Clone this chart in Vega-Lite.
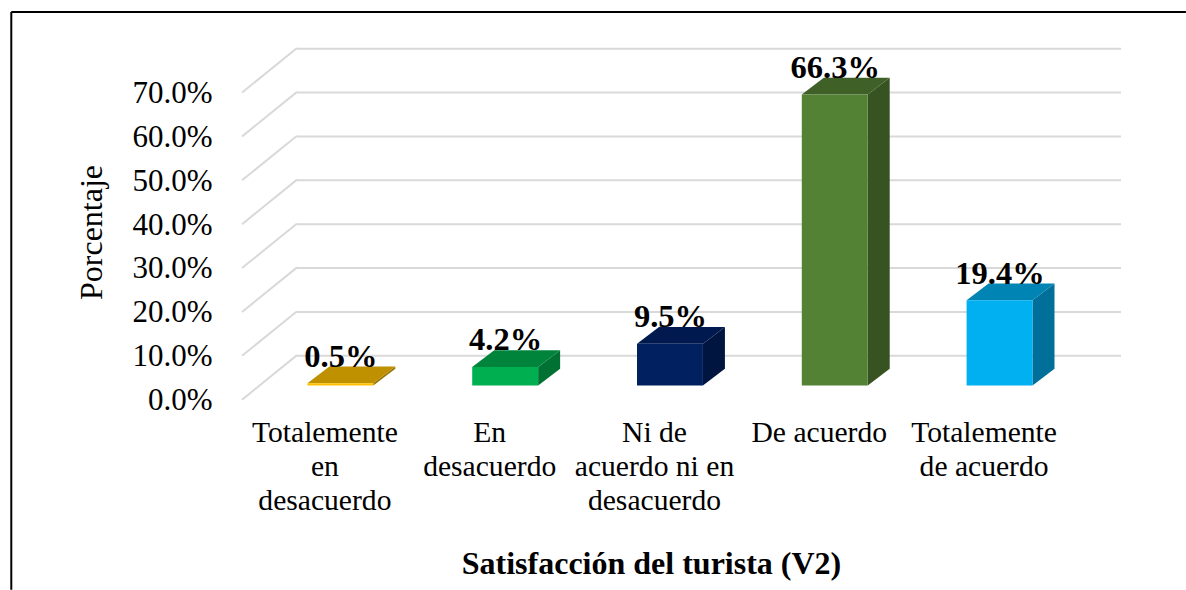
{
"$schema":"https://vega.github.io/schema/vega-lite/v6.json",
"width":879,"height":351,
"autosize":{"type":"none"},
"padding":{"left":242,"top":48,"right":65,"bottom":191},
"background":"white",
"view":{"stroke":null},
"config":{"font":"Liberation Serif"},
"datasets":{
"barras":[
{"categoria":"Totalemente en desacuerdo","orden":1,"valor":0.5},
{"categoria":"En desacuerdo","orden":2,"valor":4.2},
{"categoria":"Ni de acuerdo ni en desacuerdo","orden":3,"valor":9.5},
{"categoria":"De acuerdo","orden":4,"valor":66.3},
{"categoria":"Totalemente de acuerdo","orden":5,"valor":19.4}
],
"rejilla":[{"g":0},{"g":10},{"g":20},{"g":30},{"g":40},{"g":50},{"g":60},{"g":70}],
"marco":[
{"x":-0.9,"x2":-0.9,"y":88.2,"y2":-43.5},
{"x":-0.9,"x2":6.228,"y":88.2,"y2":88.2}
]
},
"resolve":{"scale":{"color":"independent"}},
"layer":[
{"data":{"name":"rejilla"},
 "mark":{"type":"rule","color":"#d9d9d9","strokeWidth":2,"yOffset":0.7},
 "transform":[{"calculate":"datum.g+10","as":"atras"}],
 "encoding":{
  "x":{"datum":0.834,"type":"quantitative","scale":{"domain":[0.5,5.834],"nice":false,"zero":false},
   "axis":{"values":[1,2,3,4,5],"grid":false,"domain":false,"ticks":false,"title":"Satisfacción del turista (V2)","titleFont":"Liberation Serif","titleFontSize":32,"titleFontWeight":"bold","titleColor":"black","titleX":409,"titleY":174,"titleBaseline":"alphabetic","titleAnchor":"middle",
   "labelFont":"Liberation Serif","labelFontSize":29.6,"labelColor":"black","labelPadding":19,"labelLineHeight":34,"labelOverlap":false,"labelBound":false,"labelFlush":false,"labelAngle":0,
   "labelExpr":"datum.value==1?['Totalemente','en','desacuerdo']:datum.value==2?['En','desacuerdo']:datum.value==3?['Ni de','acuerdo ni en','desacuerdo']:datum.value==4?['De acuerdo']:['Totalemente','de acuerdo']"}},
  "x2":{"datum":5.834},
  "y":{"field":"atras","type":"quantitative","scale":{"domain":[0,80],"nice":false,"zero":false},
   "axis":{"values":[0,10,20,30,40,50,60,70],"grid":false,"domain":false,"ticks":false,"title":"Porcentaje","titleFont":"Liberation Serif","titleFontSize":32,"titleFontWeight":"normal","titleColor":"black","titleX":-151,"titleY":184,"titleAngle":-90,"titleBaseline":"middle","titleAlign":"center",
   "labelFont":"Liberation Serif","labelFontSize":31,"labelColor":"black","labelPadding":30,"labelOffset":1.5,"labelOverlap":false,"labelBound":false,"labelFlush":false,
   "labelExpr":"format(datum.value,'.1f')+'%'"}}
 }},
{"data":{"name":"rejilla"},
 "mark":{"type":"rule","color":"#d9d9d9","strokeWidth":2,"yOffset":0.7},
 "transform":[{"calculate":"datum.g+10","as":"atras"}],
 "encoding":{
  "x":{"datum":0.5,"type":"quantitative"},
  "x2":{"datum":0.834},
  "y":{"field":"g","type":"quantitative"},
  "y2":{"field":"atras"}
 }},
{"data":{"name":"marco"},
 "mark":{"type":"rule","color":"black","strokeWidth":2},
 "encoding":{
  "x":{"field":"x","type":"quantitative"},
  "x2":{"field":"x2"},
  "y":{"field":"y","type":"quantitative"},
  "y2":{"field":"y2"}
 }},
{"data":{"name":"barras"},
 "mark":{"type":"area","line":false,"opacity":1},
 "transform":[
  {"calculate":"datum.orden+0.297","as":"xa"},
  {"calculate":"datum.orden+0.4305","as":"xb"},
  {"fold":["xa","xb"],"as":["lado","xpos"]},
  {"calculate":"datum.lado=='xa'?3.1:6.9","as":"ybase"},
  {"calculate":"datum.valor+datum.ybase","as":"ytope"}
 ],
 "encoding":{
  "x":{"field":"xpos","type":"quantitative"},
  "y":{"field":"ytope","type":"quantitative"},
  "y2":{"field":"ybase"},
  "detail":{"field":"categoria"},
  "color":{"field":"categoria","type":"nominal","legend":null,
   "scale":{"domain":["Totalemente en desacuerdo","En desacuerdo","Ni de acuerdo ni en desacuerdo","De acuerdo","Totalemente de acuerdo"],"range":["#997300","#007033","#001540","#365321","#006f9a"]}}
 }},
{"data":{"name":"barras"},
 "mark":{"type":"area","orient":"horizontal","opacity":1},
 "transform":[
  {"calculate":"datum.valor+3.1","as":"yfrente"},
  {"calculate":"datum.valor+6.9","as":"yatras"},
  {"fold":["yfrente","yatras"],"as":["borde","ypos"]},
  {"calculate":"datum.borde=='yfrente'?datum.orden-0.103:datum.orden+0.0305","as":"xi"},
  {"calculate":"datum.xi+0.4","as":"xd"}
 ],
 "encoding":{
  "x":{"field":"xi","type":"quantitative"},
  "x2":{"field":"xd"},
  "y":{"field":"ypos","type":"quantitative"},
  "detail":{"field":"categoria"},
  "color":{"field":"categoria","type":"nominal","legend":null,
   "scale":{"domain":["Totalemente en desacuerdo","En desacuerdo","Ni de acuerdo ni en desacuerdo","De acuerdo","Totalemente de acuerdo"],"range":["#bf9000","#00843c","#001a4f","#3f6128","#0084b4"]}}
 }},
{"data":{"name":"barras"},
 "mark":{"type":"rect"},
 "transform":[
  {"calculate":"datum.orden-0.103","as":"xi"},
  {"calculate":"datum.orden+0.297","as":"xd"},
  {"calculate":"datum.valor+3.1","as":"ytope"},
  {"calculate":"3.1","as":"ybase"}
 ],
 "encoding":{
  "x":{"field":"xi","type":"quantitative"},
  "x2":{"field":"xd"},
  "y":{"field":"ytope","type":"quantitative"},
  "y2":{"field":"ybase"},
  "color":{"field":"categoria","type":"nominal","legend":null,
   "scale":{"domain":["Totalemente en desacuerdo","En desacuerdo","Ni de acuerdo ni en desacuerdo","De acuerdo","Totalemente de acuerdo"],"range":["#ffc000","#00b050","#002060","#548235","#00b0f0"]}}
 }},
{"data":{"name":"barras"},
 "mark":{"type":"text","font":"Liberation Serif","fontSize":32.5,"fontWeight":"bold","color":"black","baseline":"alphabetic","align":"center"},
 "transform":[
  {"calculate":"datum.orden+0.1","as":"xc"},
  {"calculate":"datum.valor+6.9","as":"yt"},
  {"calculate":"format(datum.valor,'.1f')+'%'","as":"etiqueta"}
 ],
 "encoding":{
  "x":{"field":"xc","type":"quantitative"},
  "y":{"field":"yt","type":"quantitative"},
  "text":{"field":"etiqueta"}
 }}
]
}
